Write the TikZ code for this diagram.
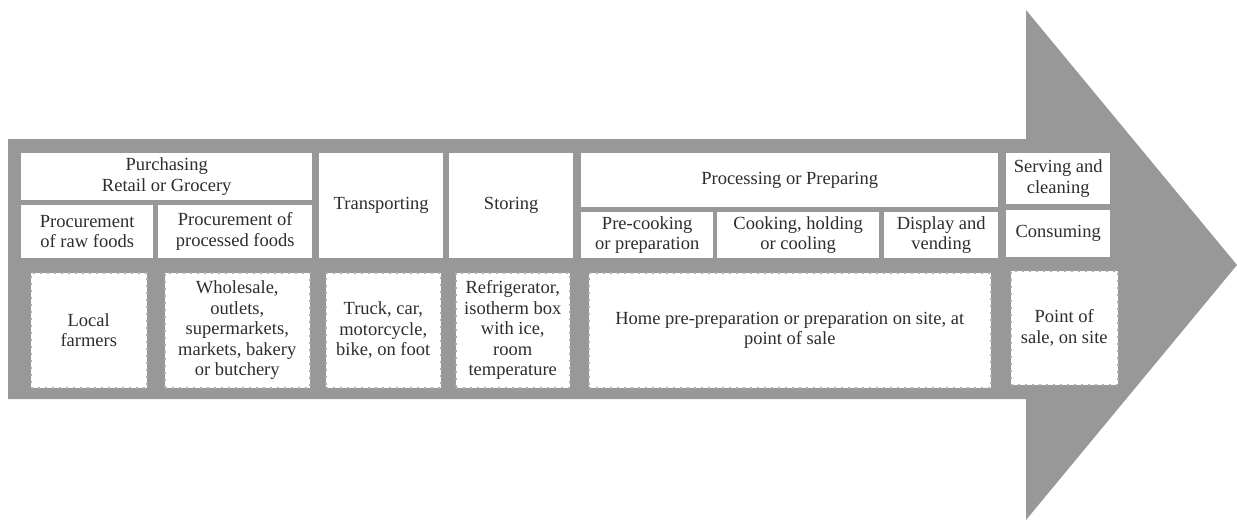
\documentclass[tikz,border=0pt]{standalone}
\usepackage{fontspec}
\setmainfont{Liberation Serif}
\usetikzlibrary{positioning}

\definecolor{arrowgray}{RGB}{152,152,152}
\definecolor{textgray}{RGB}{45,45,45}

\tikzset{
  stage/.style={fill=white, draw=none, inner sep=1pt, align=center, anchor=north west,
    text=textgray, font=\fontsize{18.5}{20.5}\selectfont},
  place/.style={stage, draw=arrowgray!80, line width=1.5pt, dash pattern=on 2pt off 5pt}
}

\begin{document}
\begin{tikzpicture}[x=1pt,y=-1pt]
            \useasboundingbox (0,0) rectangle (1237,527);

            % The big arrow
            \fill[arrowgray] (8,139) -- (1026,139) -- (1026,10) -- (1237,265)
                -- (1026,520) -- (1026,399) -- (8,399) -- cycle;

            % Stages of the chain
            \node[stage, minimum width=291pt, minimum height=47pt] (purch) at (21,153) {Purchasing\\Retail or Grocery};
            \node[stage, minimum width=132pt, minimum height=53pt] (raw) at (21,205) {Procurement\\of raw foods};
            \node[stage, minimum width=154pt, minimum height=53pt] (processed) at (158,205) {Procurement of\\processed foods};
            \node[stage, minimum width=124pt, minimum height=105pt] (transp) at (319,153) {Transporting};
            \node[stage, minimum width=124pt, minimum height=105pt] (stor) at (449,153) {Storing};
            \node[stage, minimum width=417pt, minimum height=54pt] (prep) at (581,153) {Processing or Preparing};
            \node[stage, minimum width=132pt, minimum height=46pt] (precook) at (581,212) {Pre-cooking\\or preparation};
            \node[stage, minimum width=162pt, minimum height=46pt] (cook) at (717,212) {Cooking, holding\\or cooling};
            \node[stage, minimum width=114pt, minimum height=46pt] (disp) at (884,212) {Display and\\vending};
            \node[stage, minimum width=104pt, minimum height=51pt] (serv) at (1006,153) {Serving and\\cleaning};
            \node[stage, minimum width=104pt, minimum height=47pt] (cons) at (1006,210) {Consuming};

            % Where it happens
            \node[place, minimum width=116pt, minimum height=115pt] (farm) at (30,272) {Local\\farmers};
            \node[place, minimum width=145pt, minimum height=115pt] (whole) at (164,272) {Wholesale,\\outlets,\\supermarkets,\\markets, bakery\\or butchery};
            \node[place, minimum width=115pt, minimum height=115pt] (truck) at (325,272) {Truck, car,\\motorcycle,\\bike, on foot};
            \node[place, minimum width=114pt, minimum height=115pt] (fridge) at (455,272) {Refrigerator,\\isotherm box\\with ice,\\room\\temperature};
            \node[place, minimum width=402pt, minimum height=115pt] (home) at (588,272) {Home pre-preparation or preparation on site, at\\point of sale};
            \node[place, minimum width=107pt, minimum height=114pt] (point) at (1010,270) {Point of\\sale, on site};
\end{tikzpicture}
\end{document}
